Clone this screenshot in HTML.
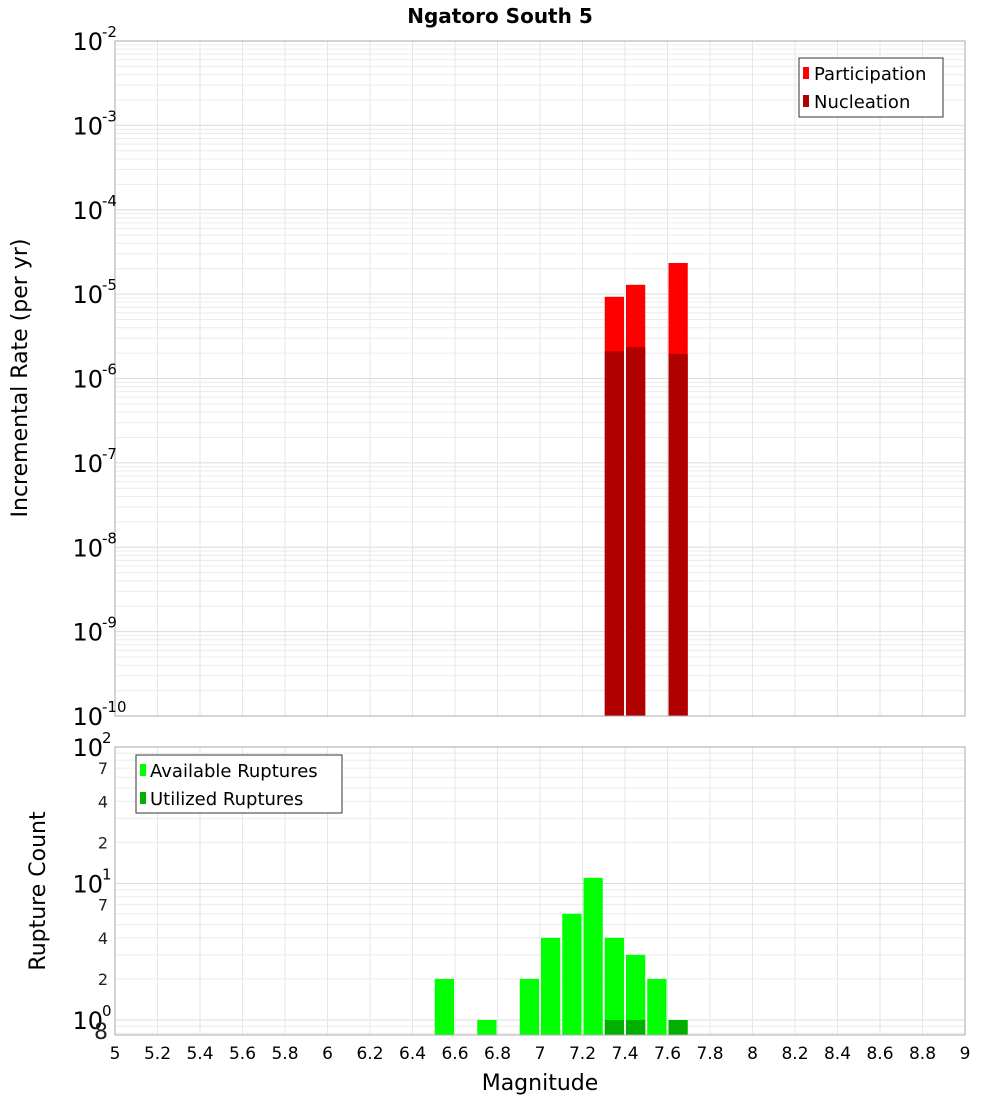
<!DOCTYPE html>
<html><head><meta charset="utf-8"><style>
body{margin:0;background:#fff;font-family:"Liberation Sans","DejaVu Sans",sans-serif}
svg text{font-family:"DejaVu Sans","Liberation Sans",sans-serif}
</style></head><body>
<svg id="c" width="1000" height="1100" xmlns="http://www.w3.org/2000/svg">
<text x="500" y="23" text-anchor="middle" font-size="20" font-weight="bold">Ngatoro South 5</text>
<text transform="translate(27,378) rotate(-90)" text-anchor="middle" font-size="22">Incremental Rate (per yr)</text>
<text transform="translate(45,891) rotate(-90)" text-anchor="middle" font-size="22">Rupture Count</text>
<text x="540" y="1090" text-anchor="middle" font-size="22">Magnitude</text>
<g id="grid"></g><g id="bars"></g><g id="axes"></g>
<g>
<rect x="799" y="58" width="144" height="59" fill="#fff" stroke="#333"/>
<rect x="803" y="67" width="6" height="12" fill="#ff0000"/>
<text x="814" y="80" font-size="18">Participation</text>
<rect x="803" y="95" width="6" height="12" fill="#b00000"/>
<text x="814" y="108" font-size="18">Nucleation</text>
</g>
<g>
<rect x="136" y="755" width="206" height="58" fill="#fff" stroke="#333"/>
<rect x="140" y="764" width="6" height="12" fill="#00ff00"/>
<text x="150" y="777" font-size="18">Available Ruptures</text>
<rect x="140" y="792" width="6" height="12" fill="#00b000"/>
<text x="150" y="805" font-size="18">Utilized Ruptures</text>
</g>
</svg>
<script>
const binStarts=[7.3,7.4,7.6];
const participation=[9.3e-6,1.29e-5,2.34e-5];
const nucleation=[2.1e-6,2.35e-6,1.95e-6];
const countBins=[6.5,6.7,6.9,7.0,7.1,7.2,7.3,7.4,7.5];
const available=[2,1,2,4,6,11,4,3,2];
const utilBins=[7.3,7.4,7.6];
const utilized=[1,1,1];
const xTicks=[5,5.2,5.4,5.6,5.8,6,6.2,6.4,6.6,6.8,7,7.2,7.4,7.6,7.8,8,8.2,8.4,8.6,8.8,9];
const topExps=[-2,-3,-4,-5,-6,-7,-8,-9,-10];
const NS="http://www.w3.org/2000/svg";
const X0=115,X1=965,T0=41,T1=716,B0=747,B1=1035;
const x=m=>X0+(m-5)/4*(X1-X0);
const yT=v=>T0+(-2-Math.log10(v))*(T1-T0)/8;
const yB=v=>B0+(2-Math.log10(v))*136.5;
function mk(p,tag,a){const e=document.createElementNS(NS,tag);for(const k in a)e.setAttribute(k,a[k]);document.getElementById(p).appendChild(e);return e;}
// grid
for(let d=-10;d<-2;d++)for(let k=1;k<10;k++){const y=yT(k*Math.pow(10,d));const l=mk('grid','line',{x1:X0,x2:X1,y1:y,y2:y,stroke:k==1?'#dcdcdc':'#ececec'});

}
for(let d=-1;d<2;d++)for(let k=1;k<10;k++){const y=yB(k*Math.pow(10,d));if(y<B0||y>B1)continue;const l=mk('grid','line',{x1:X0,x2:X1,y1:y,y2:y,stroke:k==1?'#dcdcdc':'#ececec'});

}
xTicks.forEach(t=>{[[T0,T1],[B0,B1]].forEach(r=>{const l=mk('grid','line',{x1:x(t),x2:x(t),y1:r[0],y2:r[1],stroke:'#e6e6e6'});

});});
// bars
binStarts.forEach((m,i)=>{const r=mk('bars','rect',{x:x(m)+1,width:x(m+0.1)-x(m)-2,y:yT(participation[i]),height:T1-yT(participation[i]),fill:'#ff0000'});


const n=mk('bars','rect',{x:x(m)+1,width:x(m+0.1)-x(m)-2,y:yT(nucleation[i]),height:T1-yT(nucleation[i]),fill:'#b00000'});

});
countBins.forEach((m,i)=>{const r=mk('bars','rect',{x:x(m)+1,width:x(m+0.1)-x(m)-2,y:yB(available[i]),height:B1-yB(available[i]),fill:'#00ff00'});

});
utilBins.forEach((m,i)=>{const r=mk('bars','rect',{x:x(m)+1,width:x(m+0.1)-x(m)-2,y:yB(utilized[i]),height:B1-yB(utilized[i]),fill:'#00b000'});

});
// frames
[[T0,T1],[B0,B1]].forEach(r=>{const f=mk('axes','rect',{x:X0,y:r[0],width:X1-X0,height:r[1]-r[0],fill:'none',stroke:'#aaa'});

});
// top y labels
topExps.forEach(e=>{const y=yT(Math.pow(10,e));const t=mk('axes','text',{x:103,y:y+9,'text-anchor':'end','font-size':24});t.textContent='10';


const s=mk('axes','text',{x:102,y:y-4,'font-size':15});s.textContent=String(e);

});
// bottom y labels
[[100,'2'],[10,'1'],[1,'0']].forEach(p=>{const y=yB(p[0]);const t=mk('axes','text',{x:103,y:y+9,'text-anchor':'end','font-size':24});t.textContent='10';


const s=mk('axes','text',{x:102,y:y-4,'font-size':15});s.textContent=p[1];

});
[[70,'7'],[40,'4'],[20,'2'],[7,'7'],[4,'4'],[2,'2'],[0.8,'8']].forEach(p=>{const y=yB(p[0]);const t=mk('axes','text',{x:108,y:y+6,'text-anchor':'end','font-size':p[1]=='8'&&p[0]<1?22:16,fill:'#222'});t.textContent=p[1];

});
xTicks.forEach(tk=>{const t=mk('axes','text',{x:x(tk),y:1059,'text-anchor':'middle','font-size':17});t.textContent=String(tk);

});
</script>
</body></html>
